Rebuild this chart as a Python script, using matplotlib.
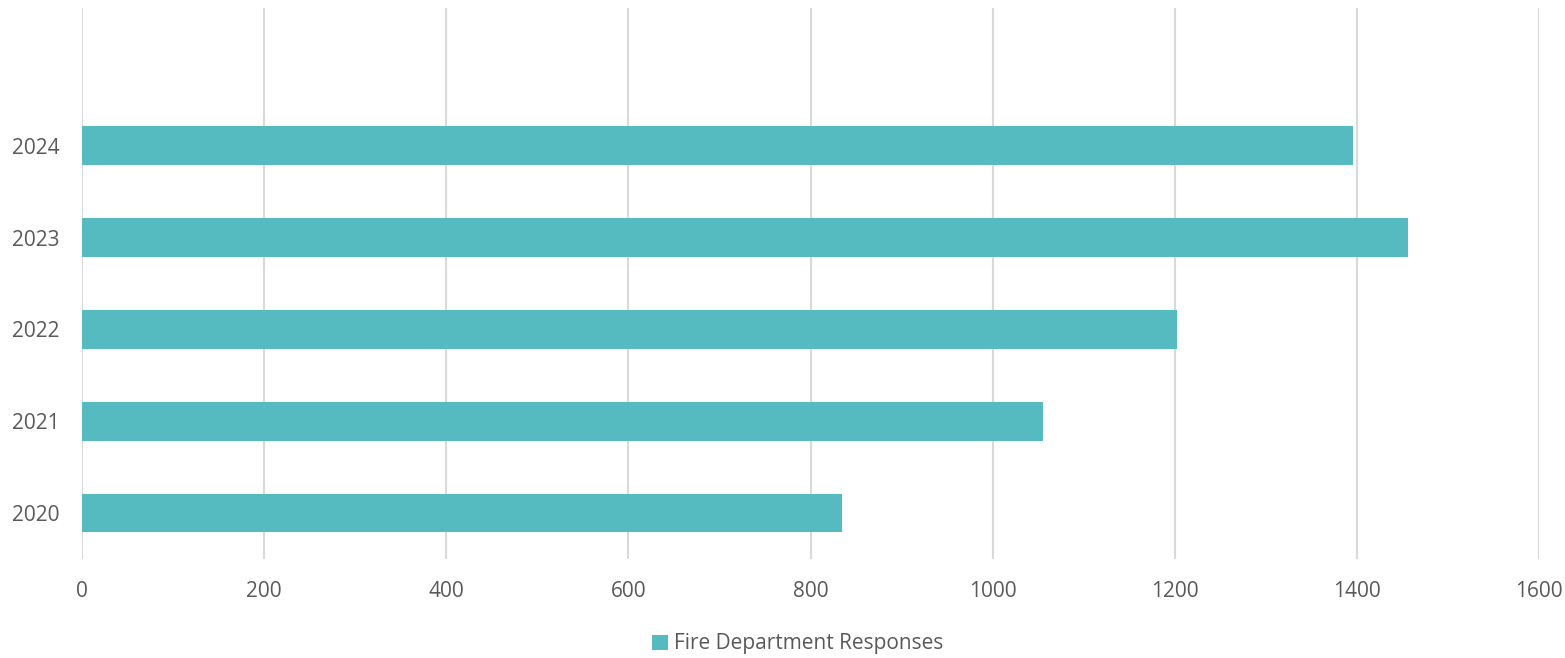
import matplotlib.pyplot as plt
from matplotlib.patches import Patch

years = ["2020", "2021", "2022", "2023", "2024"]
responses = [835, 1055, 1203, 1456, 1396]
series_name = "Fire Department Responses"
x_ticks = [0, 200, 400, 600, 800, 1000, 1200, 1400, 1600]

bar_color = "#56BBC0"
grid_color = "#D9D9D9"
text_color = "#595959"

plt.rcParams["font.family"] = ["Open Sans", "DejaVu Sans"]

fig = plt.figure(figsize=(15.65, 6.58), dpi=100)
ax = fig.add_axes([0.0524, 0.1505, 0.9310, 0.8373])

positions = list(range(len(years)))
ax.barh(positions, responses, height=0.42, color=bar_color, zorder=3)

ax.set_xlim(0, 1600)
ax.set_ylim(-0.5, len(years) + 0.5)
ax.set_xticks(x_ticks)
ax.set_xticklabels([str(t) for t in x_ticks])
ax.set_yticks(positions)
ax.set_yticklabels(years)

ax.grid(axis="x", color=grid_color, linewidth=1.5, zorder=0)
ax.grid(axis="y", visible=False)
for s in ax.spines.values():
    s.set_visible(False)

ax.tick_params(axis="both", length=0, labelsize=15, colors=text_color)
ax.tick_params(axis="x", pad=16)
ax.tick_params(axis="y", pad=16)

handle = Patch(facecolor=bar_color, edgecolor="none")
fig.legend([handle], [series_name], loc="center", bbox_to_anchor=(0.5096, 1 - 644 / 658),
           frameon=False, fontsize=15, labelcolor=text_color,
           handlelength=0.75, handleheight=0.75, handletextpad=0.3)

fig.savefig("out.png", dpi=100)
